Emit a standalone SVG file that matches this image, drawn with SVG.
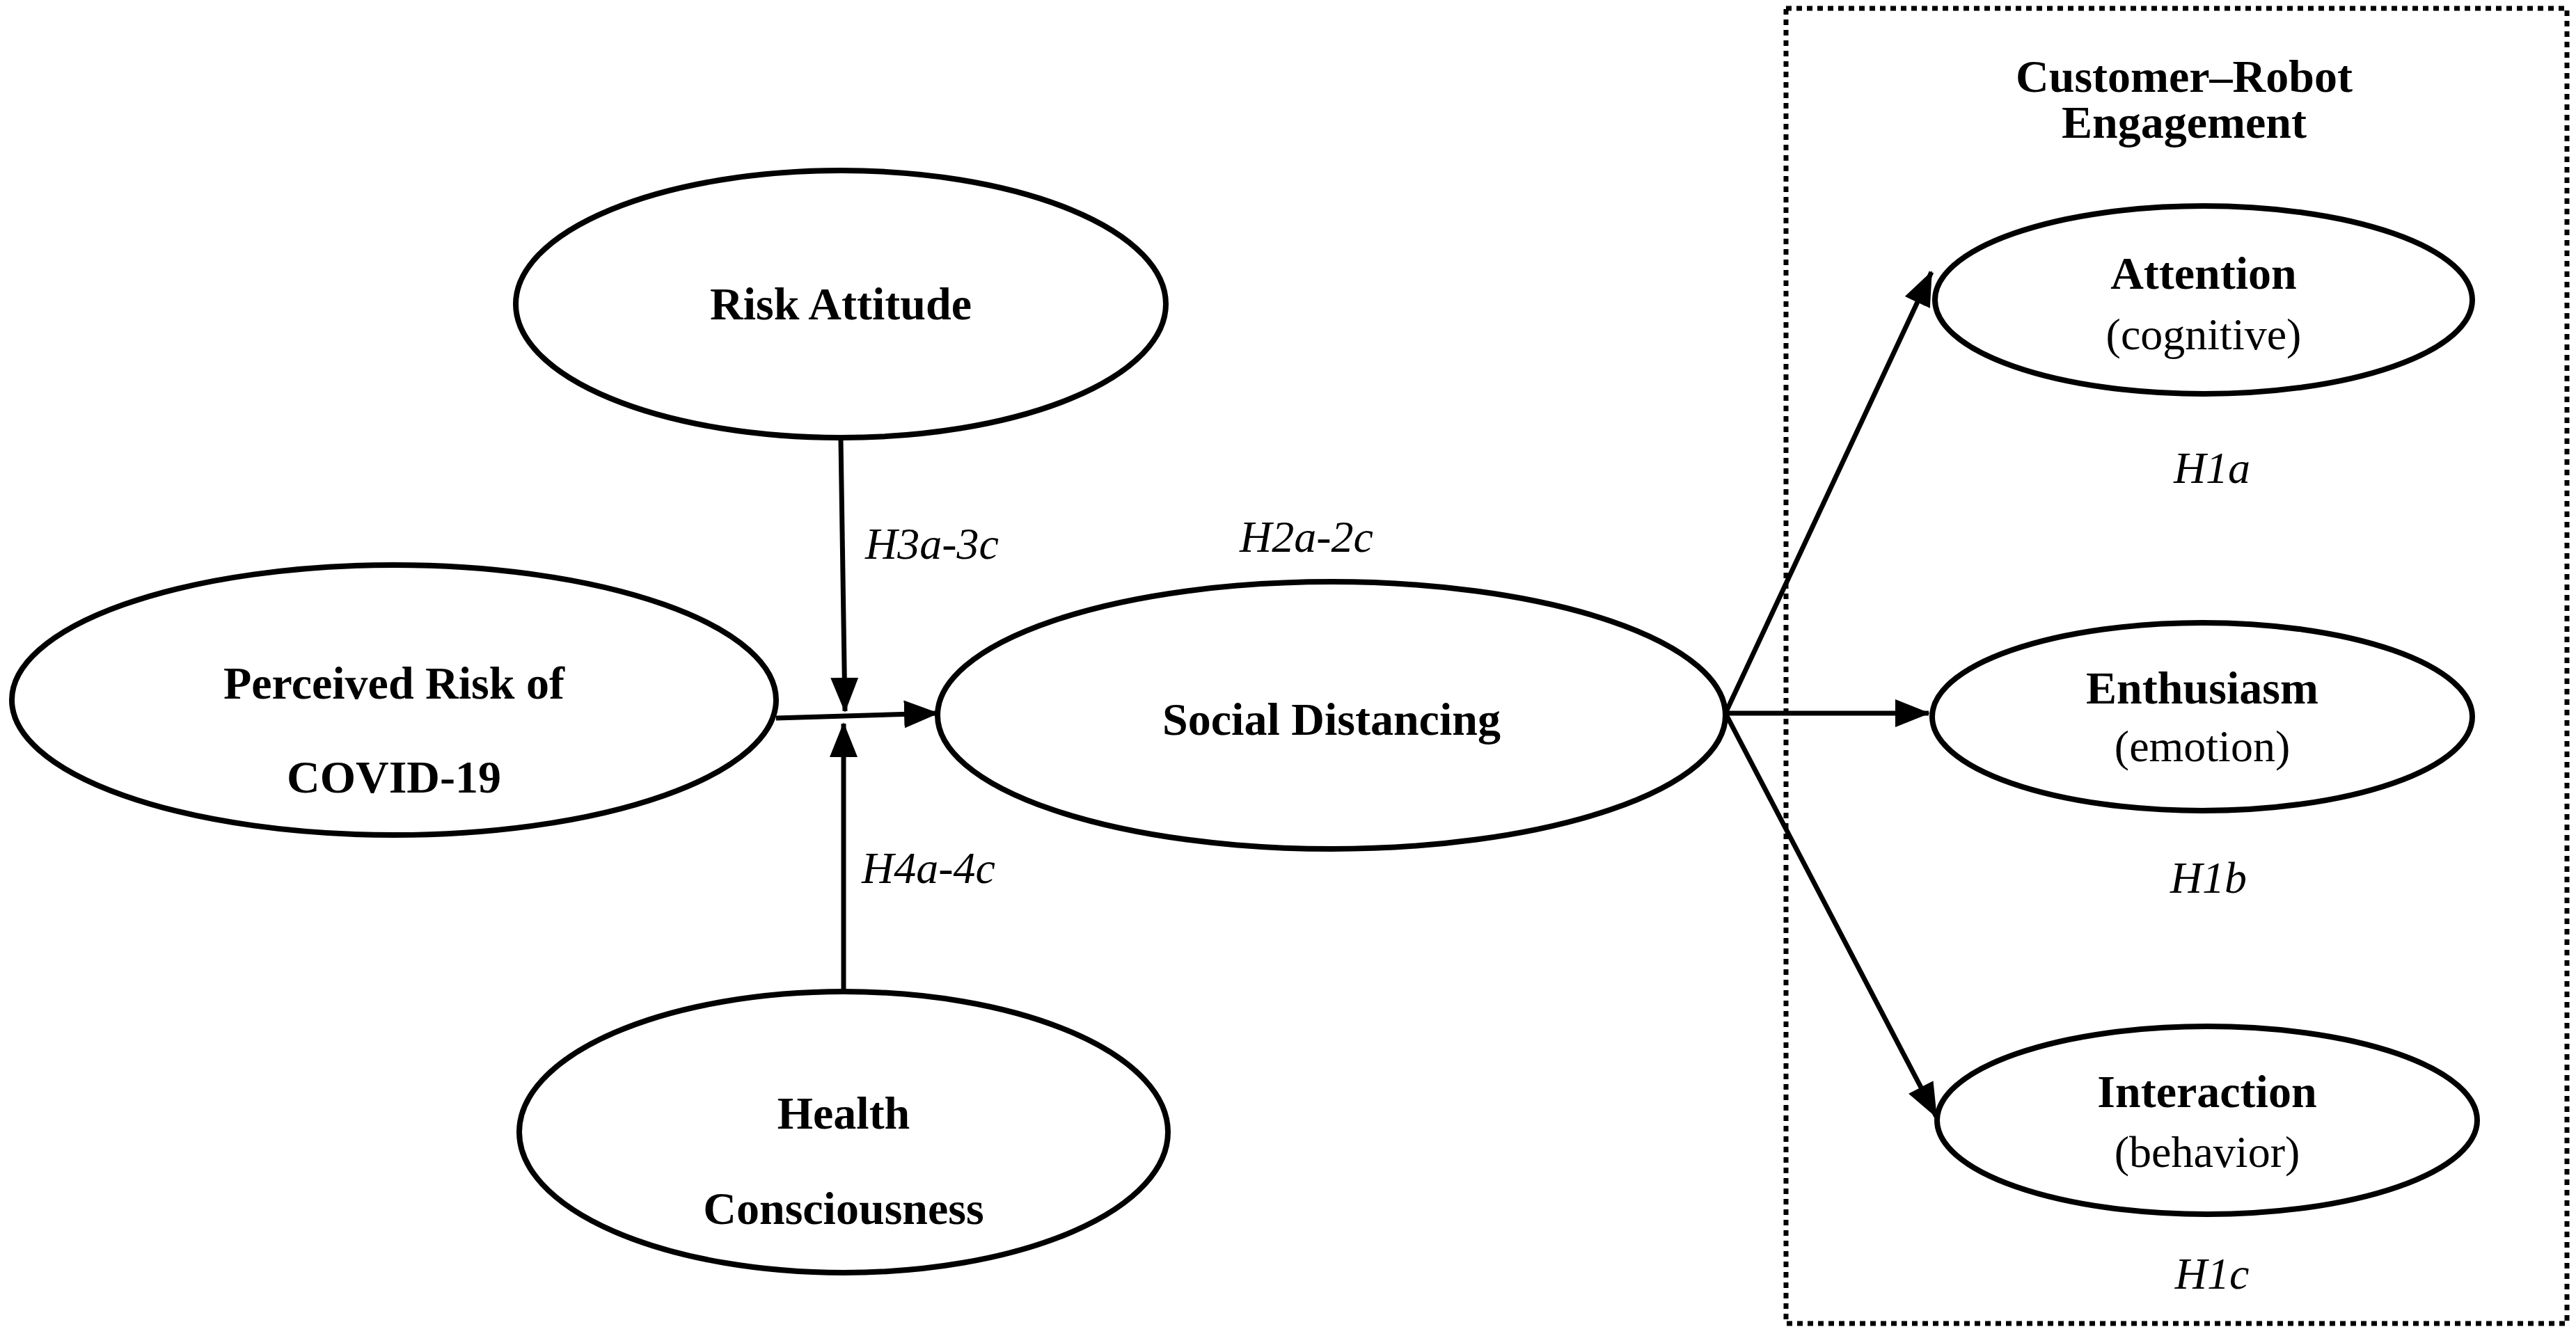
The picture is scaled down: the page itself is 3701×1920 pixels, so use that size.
<svg xmlns="http://www.w3.org/2000/svg" width="3701" height="1920" viewBox="0 0 3701 1920">
<style>
.n{fill:#fff;stroke:#000;stroke-width:8}
.b{font-family:"Liberation Serif",serif;font-weight:bold;font-size:66px;text-anchor:middle}
.r{font-family:"Liberation Serif",serif;font-size:64px;text-anchor:middle}
.i{font-family:"Liberation Serif",serif;font-style:italic;font-size:64px}
.c{stroke:#000;stroke-width:7;fill:none;marker-end:url(#a)}
</style>
<defs><marker id="a" markerUnits="userSpaceOnUse" markerWidth="50" markerHeight="40" refX="48" refY="20" orient="auto"><path d="M0,0 L50,20 L0,40 Z" fill="#000"/></marker></defs>
<rect x="2566" y="12" width="1122" height="1890" fill="none" stroke="#000" stroke-width="7" stroke-dasharray="8,7"/>
<text class="b" x="3138" y="132">Customer–Robot</text>
<text class="b" x="3138" y="198">Engagement</text>
<g id="connectors">
<line class="c" x1="1115" y1="1032" x2="1347" y2="1025"/>
<line class="c" x1="1208" y1="632" x2="1214" y2="1022"/>
<line class="c" x1="1212" y1="1425" x2="1212" y2="1040"/>
<line class="c" x1="2479" y1="1025" x2="2775" y2="391"/>
<line class="c" x1="2479" y1="1025" x2="2771" y2="1025"/>
<line class="c" x1="2479" y1="1025" x2="2782" y2="1605"/>
</g>
<g id="risk"><ellipse class="n" cx="1208" cy="437" rx="467" ry="192"/><text class="b" x="1208" y="459">Risk Attitude</text></g>
<g id="perceived"><ellipse class="n" cx="566" cy="1006" rx="549" ry="194"/><text class="b" x="566" y="1004">Perceived Risk of</text><text class="b" x="566" y="1139">COVID-19</text></g>
<g id="health"><ellipse class="n" cx="1212" cy="1627" rx="466" ry="202"/><text class="b" x="1212" y="1622">Health</text><text class="b" x="1212" y="1759">Consciousness</text></g>
<g id="social"><ellipse class="n" cx="1913" cy="1028" rx="566" ry="192"/><text class="b" x="1913" y="1056">Social Distancing</text></g>
<g id="attention"><ellipse class="n" cx="3166" cy="431" rx="386" ry="135"/><text class="b" x="3166" y="415">Attention</text><text class="r" x="3166" y="502">(cognitive)</text></g>
<g id="enthusiasm"><ellipse class="n" cx="3164" cy="1030" rx="388" ry="135"/><text class="b" x="3164" y="1011">Enthusiasm</text><text class="r" x="3164" y="1094">(emotion)</text></g>
<g id="interaction"><ellipse class="n" cx="3171" cy="1610" rx="388" ry="135"/><text class="b" x="3171" y="1591">Interaction</text><text class="r" x="3171" y="1677">(behavior)</text></g>
<text class="i" x="3178" y="694" text-anchor="middle">H1a</text>
<text class="i" x="3173" y="1283" text-anchor="middle">H1b</text>
<text class="i" x="3178" y="1852" text-anchor="middle">H1c</text>
<text class="i" x="1243" y="803">H3a-3c</text>
<text class="i" x="1238" y="1269">H4a-4c</text>
<text class="i" x="1781" y="793">H2a-2c</text>
</svg>
